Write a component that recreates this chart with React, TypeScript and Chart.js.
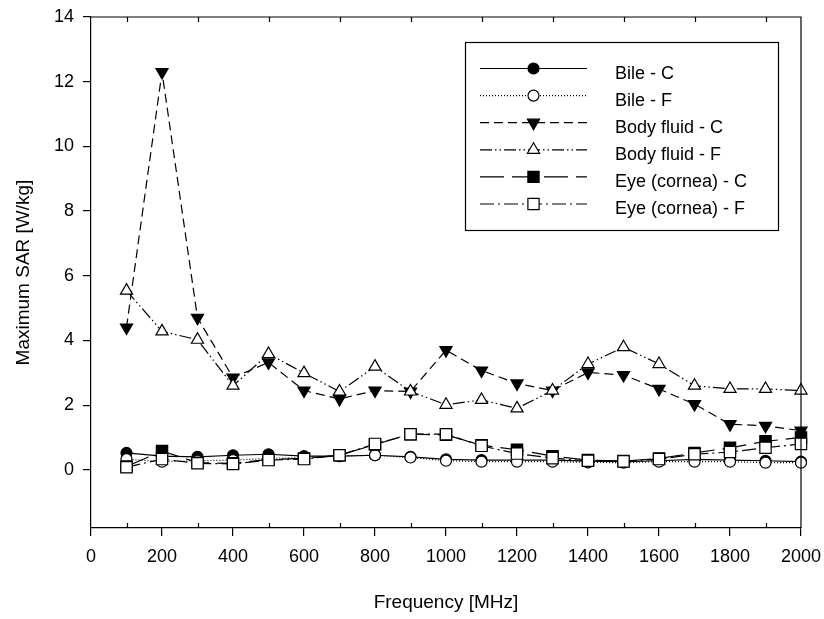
import { useEffect, useRef } from 'react';
import { Chart, registerables } from 'chart.js';

Chart.register(...registerables);

const frequencies = [100, 200, 300, 400, 500, 600, 700, 800, 900, 1000, 1100, 1200, 1300, 1400, 1500, 1600, 1700, 1800, 1900, 2000];
const bileC = [0.52, 0.42, 0.40, 0.45, 0.48, 0.42, 0.42, 0.45, 0.40, 0.32, 0.30, 0.30, 0.30, 0.27, 0.25, 0.28, 0.32, 0.30, 0.28, 0.25];
const bileF = [0.33, 0.25, 0.28, 0.30, 0.35, 0.38, 0.42, 0.45, 0.38, 0.28, 0.25, 0.25, 0.25, 0.23, 0.22, 0.25, 0.25, 0.25, 0.22, 0.22];
const bodyFluidC = [4.4, 12.3, 4.7, 2.85, 3.32, 2.45, 2.19, 2.45, 2.42, 3.7, 3.07, 2.67, 2.45, 3.01, 2.93, 2.5, 2.03, 1.41, 1.36, 1.21];
const bodyFluidF = [5.54, 4.28, 4.02, 2.6, 3.58, 2.99, 2.42, 3.19, 2.42, 2.01, 2.16, 1.9, 2.45, 3.27, 3.79, 3.27, 2.6, 2.5, 2.5, 2.45];
const eyeC = [0.1, 0.58, 0.22, 0.2, 0.32, 0.35, 0.45, 0.78, 1.1, 1.08, 0.76, 0.62, 0.42, 0.3, 0.27, 0.35, 0.52, 0.68, 0.88, 1.0];
const eyeF = [0.08, 0.33, 0.2, 0.18, 0.3, 0.33, 0.45, 0.8, 1.1, 1.1, 0.74, 0.5, 0.36, 0.28, 0.26, 0.33, 0.48, 0.55, 0.68, 0.8];

const seriesLabels = ['Bile - C', 'Bile - F', 'Body fluid - C', 'Body fluid - F', 'Eye (cornea) - C', 'Eye (cornea) - F'];
const yTickValues = [0, 2, 4, 6, 8, 10, 12, 14];
const xMinorTicks = [100, 300, 500, 700, 900, 1100, 1300, 1500, 1700, 1900];

const FONT = "'Liberation Sans', Arial, sans-serif";

type Marker = 'circle' | 'triDown' | 'triUp' | 'square';

const styles: { marker: Marker; filled: boolean; dash: number[] }[] = [
  { marker: 'circle', filled: true, dash: [] },
  { marker: 'circle', filled: false, dash: [1, 2] },
  { marker: 'triDown', filled: true, dash: [9, 5] },
  { marker: 'triUp', filled: false, dash: [12, 3, 1.5, 3, 1.5, 3] },
  { marker: 'square', filled: true, dash: [24, 8] },
  { marker: 'square', filled: false, dash: [14, 4, 2, 4] },
];

function drawMarker(ctx: CanvasRenderingContext2D, m: Marker, x: number, y: number, filled: boolean) {
  ctx.beginPath();
  if (m === 'circle') {
    ctx.arc(x, y, 5.5, 0, Math.PI * 2);
  } else if (m === 'triDown') {
    const r = 7;
    ctx.moveTo(x, y + r);
    ctx.lineTo(x - r * 0.866, y - r / 2);
    ctx.lineTo(x + r * 0.866, y - r / 2);
    ctx.closePath();
  } else if (m === 'triUp') {
    const r = 7;
    ctx.moveTo(x, y - r);
    ctx.lineTo(x - r * 0.866, y + r / 2);
    ctx.lineTo(x + r * 0.866, y + r / 2);
    ctx.closePath();
  } else {
    ctx.rect(x - 5.6, y - 5.6, 11.2, 11.2);
  }
  ctx.fillStyle = filled ? '#000' : '#fff';
  ctx.fill();
  ctx.setLineDash([]);
  ctx.lineWidth = 1.2;
  ctx.strokeStyle = '#000';
  ctx.stroke();
}

const framePlugin = {
  id: 'frameAndLegend',
  afterDraw(chart: any) {
    const { ctx, chartArea } = chart;
    const { left, right, top, bottom } = chartArea;
    const xs = chart.scales.x;
    ctx.save();
    ctx.strokeStyle = '#000';
    ctx.lineWidth = 1.2;
    ctx.setLineDash([]);
    ctx.beginPath();
    ctx.moveTo(left, top);
    ctx.lineTo(right, top);
    ctx.lineTo(right, bottom);
    ctx.stroke();
    // minor ticks (inward) on bottom and top
    ctx.beginPath();
    for (const f of xMinorTicks) {
      const px = Math.round(xs.getPixelForValue(f)) + 0.5;
      ctx.moveTo(px, bottom);
      ctx.lineTo(px, bottom - 5);
      ctx.moveTo(px, top);
      ctx.lineTo(px, top + 5);
    }
    ctx.stroke();

    // legend
    const lx = 465, ly = 42, lw = 313, lh = 188;
    ctx.fillStyle = '#fff';
    ctx.fillRect(lx, ly, lw, lh);
    ctx.lineWidth = 1.2;
    ctx.strokeRect(lx + 0.5, ly + 0.5, lw, lh);
    ctx.font = `18px ${FONT}`;
    ctx.textBaseline = 'alphabetic';
    ctx.textAlign = 'left';
    seriesLabels.forEach((label, i) => {
      const y = 68.5 + i * 27.1;
      const st = styles[i];
      ctx.beginPath();
      ctx.setLineDash(st.dash);
      ctx.lineWidth = 1.2;
      ctx.strokeStyle = '#000';
      ctx.moveTo(480, y);
      ctx.lineTo(587, y);
      ctx.stroke();
      drawMarker(ctx, st.marker, 533.5, y, st.filled);
      ctx.fillStyle = '#000';
      ctx.fillText(label, 615, y + 10);
    });
    ctx.restore();
  },
};

function pointStyleFor(m: Marker) {
  if (m === 'circle') return { pointStyle: 'circle', pointRadius: 5.5, pointRotation: 0 };
  if (m === 'triDown') return { pointStyle: 'triangle', pointRadius: 7, pointRotation: 180 };
  if (m === 'triUp') return { pointStyle: 'triangle', pointRadius: 7, pointRotation: 0 };
  return { pointStyle: 'rect', pointRadius: 8, pointRotation: 0 };
}

export default function App() {
  const ref = useRef<HTMLCanvasElement | null>(null);
  useEffect(() => {
    if (!ref.current) return;
    const seriesValues = [bileC, bileF, bodyFluidC, bodyFluidF, eyeC, eyeF];
    const datasets = seriesValues.map((vals, i) => {
      const st = styles[i];
      return {
        label: seriesLabels[i],
        data: frequencies.map((f, j) => ({ x: f, y: vals[j] })),
        borderColor: '#000',
        borderWidth: 1.2,
        borderDash: st.dash,
        backgroundColor: st.filled ? '#000' : '#fff',
        pointBackgroundColor: st.filled ? '#000' : '#fff',
        pointBorderColor: '#000',
        pointBorderWidth: 1.2,
        ...pointStyleFor(st.marker),
        tension: 0,
        fill: false,
        clip: false as any,
        order: seriesValues.length - i,
      };
    });
    const chart = new Chart(ref.current, {
      type: 'line',
      data: { datasets: datasets as any },
      options: {
        animation: false,
        responsive: false,
        events: [],
        layout: { padding: { left: 0, right: 23, top: 17, bottom: 0 } },
        plugins: { legend: { display: false }, tooltip: { enabled: false } },
        scales: {
          x: {
            type: 'linear',
            min: 0,
            max: 2000,
            afterFit: (s: any) => { s.height = 91; s.paddingLeft = 0; s.paddingRight = 0; },
            grid: { display: true, drawOnChartArea: false, drawTicks: true, tickLength: 8, color: '#000', lineWidth: 1.2 },
            border: { display: true, color: '#000', width: 1.2 },
            ticks: { stepSize: 200, color: '#000', font: { family: FONT, size: 18 }, padding: 10, maxRotation: 0, callback: (v: any) => String(v) },
            title: { display: true, text: 'Frequency [MHz]', color: '#000', font: { family: FONT, size: 19 }, padding: { top: 0, bottom: 5 } },
          },
          y: {
            type: 'linear',
            min: -1.8,
            max: 14,
            afterFit: (s: any) => { s.width = 91; s.paddingTop = 0; s.paddingBottom = 0; },
            afterBuildTicks: (s: any) => { s.ticks = yTickValues.map((v) => ({ value: v })); },
            grid: { display: true, drawOnChartArea: false, drawTicks: true, tickLength: 8, color: '#000', lineWidth: 1.2 },
            border: { display: true, color: '#000', width: 1.2 },
            ticks: { color: '#000', font: { family: FONT, size: 18 }, padding: 9, callback: (v: any) => String(v) },
            title: { display: true, text: 'Maximum SAR [W/kg]', color: '#000', font: { family: FONT, size: 19 }, padding: { top: 12, bottom: 0 } },
          },
        },
      },
      plugins: [framePlugin],
    });
    return () => chart.destroy();
  }, []);
  return (
    <div style={{ position: 'absolute', left: 0, top: 0, width: 824, height: 619, background: '#fff' }}>
      <canvas ref={ref} width={824} height={619} />
    </div>
  );
}
